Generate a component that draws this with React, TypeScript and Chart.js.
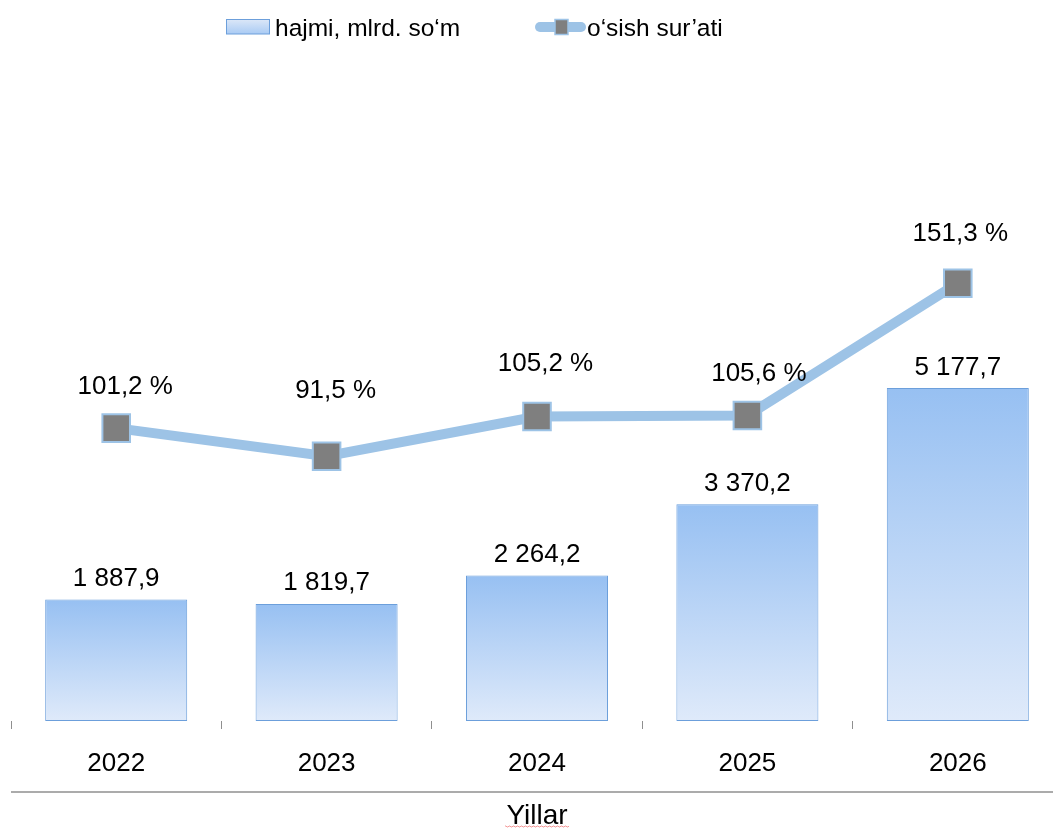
import React, { useEffect, useRef } from "react";
import { Chart, registerables } from "chart.js";

Chart.register(...registerables);

// ---- data ----
const categories = ["2022", "2023", "2024", "2025", "2026"];
const volumeValues = [1887.9, 1819.7, 2264.2, 3370.2, 5177.7];
const growthValues = [101.2, 91.5, 105.2, 105.6, 151.3];
const seriesLabels = ["hajmi, mlrd. so‘m", "o‘sish sur’ati"];
const axisTitle = "Yillar";

// ---- styling ----
const FONT = "'Liberation Sans', Arial, Helvetica, sans-serif";
const BAR_TOP = "#97C0F2";
const BAR_BOTTOM = "#DFEAFA";
const BAR_BORDER = "#6C9FDB";
const LINE_COLOR = "#9DC3E6";
const MARKER_FILL = "#7F7F7F";
// label offsets (dx, dy) relative to each growth point
const growthLabelOffsets: [number, number][] = [
  [9, -34],
  [9, -58],
  [8.5, -46],
  [11.5, -34],
  [2.5, -42],
];

function fmt(v: number, dec = 1): string {
  const [i, d] = v.toFixed(dec).split(".");
  const g = i.replace(/\B(?=(\d{3})+(?!\d))/g, " ");
  return d ? g + "," + d : g;
}

const decorPlugin = {
  id: "decor",
  afterDatasetsDraw(chart: any) {
    const c = chart.ctx as CanvasRenderingContext2D;
    c.save();
    c.font = `26px ${FONT}`;
    c.fillStyle = "#000";
    c.textAlign = "center";
    c.textBaseline = "alphabetic";
    const barData = chart.data.datasets[0].data as number[];
    chart.getDatasetMeta(0).data.forEach((el: any, i: number) => {
      c.fillText(fmt(barData[i]), el.x, el.y - 13.5);
    });
    const lineData = chart.data.datasets[1].data as number[];
    chart.getDatasetMeta(1).data.forEach((el: any, i: number) => {
      const [dx, dy] = growthLabelOffsets[i];
      c.fillText(fmt(lineData[i]) + " %", el.x + dx, el.y + dy);
    });
    c.restore();
  },
  afterDraw(chart: any) {
    const c = chart.ctx as CanvasRenderingContext2D;
    const area = chart.chartArea;
    c.save();
    // separator line under tick labels
    c.strokeStyle = "#8F8F8F";
    c.lineWidth = 1.5;
    c.beginPath();
    c.moveTo(area.left, 792);
    c.lineTo(chart.width, 792);
    c.stroke();

    // spell-check style wavy underline under the axis title
    c.strokeStyle = "rgba(235,70,70,0.55)";
    c.lineWidth = 1;
    c.beginPath();
    const cx = (area.left + area.right) / 2;
    const x0 = cx - 32;
    const x1 = cx + 32;
    for (let x = x0; x <= x1; x += 1) {
      const y = 826 + (Math.floor((x - x0) / 2) % 2 === 0 ? 0 : 1);
      if (x === x0) c.moveTo(x, y);
      else c.lineTo(x, y);
    }
    c.stroke();

    // legend
    const ds = chart.data.datasets;
    c.font = `24.5px ${FONT}`;
    c.fillStyle = "#000";
    c.textAlign = "left";
    c.textBaseline = "alphabetic";
    const g = c.createLinearGradient(0, 19, 0, 34);
    g.addColorStop(0, "#DDE8F8");
    g.addColorStop(1, "#A9CBF4");
    c.fillStyle = g;
    c.fillRect(226.5, 19.5, 43, 14.5);
    c.strokeStyle = BAR_BORDER;
    c.lineWidth = 1;
    c.strokeRect(226.5, 19.5, 43, 14.5);
    c.fillStyle = "#000";
    c.fillText(ds[0].label, 275, 36);

    c.strokeStyle = LINE_COLOR;
    c.lineWidth = 10;
    c.lineCap = "round";
    c.beginPath();
    c.moveTo(540, 27);
    c.lineTo(581, 27);
    c.stroke();
    c.lineCap = "butt";
    c.fillStyle = MARKER_FILL;
    c.fillRect(555, 19.5, 13, 15);
    c.strokeStyle = LINE_COLOR;
    c.lineWidth = 1.5;
    c.strokeRect(555, 19.5, 13, 15);
    c.fillStyle = "#000";
    c.fillText(ds[1].label, 587, 36);
    c.restore();
  },
};

export default function App() {
  const ref = useRef<HTMLCanvasElement | null>(null);

  useEffect(() => {
    if (!ref.current) return;
    const chart = new Chart(ref.current, {
      type: "bar",
      data: {
        labels: categories,
        datasets: [
          {
            type: "bar",
            label: seriesLabels[0],
            data: volumeValues,
            yAxisID: "y",
            order: 1,
            barPercentage: 0.675,
            categoryPercentage: 1,
            borderColor: BAR_BORDER,
            borderWidth: 1,
            borderSkipped: false,
            backgroundColor: (ctx: any) => {
              const ch = ctx.chart;
              const ys = ch.scales && ch.scales.y;
              if (!ys || ctx.type !== "data") return BAR_TOP;
              const top = ys.getPixelForValue(ctx.raw);
              const base = ys.getPixelForValue(0);
              if (!isFinite(top) || !isFinite(base)) return BAR_TOP;
              const gr = ch.ctx.createLinearGradient(0, top, 0, base);
              gr.addColorStop(0, BAR_TOP);
              gr.addColorStop(1, BAR_BOTTOM);
              return gr;
            },
          } as any,
          {
            type: "line",
            label: seriesLabels[1],
            data: growthValues,
            yAxisID: "y2",
            order: 0,
            borderColor: LINE_COLOR,
            borderWidth: 10,
            tension: 0,
            clip: false,
            pointStyle: "rect",
            pointRadius: 19.5,
            pointHoverRadius: 19.5,
            pointBackgroundColor: MARKER_FILL,
            pointBorderColor: LINE_COLOR,
            pointBorderWidth: 2,
          } as any,
        ],
      },
      options: {
        responsive: false,
        animation: false,
        devicePixelRatio: 1,
        layout: { autoPadding: false, padding: { left: 11, right: 17, top: 78, bottom: 0 } },
        plugins: {
          legend: { display: false },
          tooltip: { enabled: false },
        },
        scales: {
          x: {
            offset: true,
            border: { display: false },
            grid: {
              offset: true,
              drawOnChartArea: false,
              drawTicks: true,
              tickLength: 8,
              color: "#8F8F8F",
              lineWidth: 1,
            },
            ticks: {
              color: "#000",
              font: { family: FONT, size: 26 },
              padding: 19,
              maxRotation: 0,
            },
            title: {
              display: true,
              text: axisTitle,
              color: "#000",
              font: { family: FONT, size: 28, lineHeight: 1 },
              padding: { top: 0, bottom: -2 },
            },
            afterFit: (scale: any) => {
              scale.height = 107;
              scale.paddingLeft = 0;
              scale.paddingRight = 0;
            },
          },
          y: { display: false, min: 0, max: 10000 },
          y2: { display: false, position: "right", min: 0, max: 222.2 },
        },
      } as any,
      plugins: [decorPlugin],
    });
    return () => chart.destroy();
  }, []);

  return (
    <div
      style={{
        position: "fixed",
        left: 0,
        top: 0,
        width: 1053,
        height: 828,
        overflow: "hidden",
        background: "#fff",
      }}
    >
      <canvas ref={ref} width={1080} height={828} style={{ display: "block", width: 1080, height: 828 }} />
    </div>
  );
}
